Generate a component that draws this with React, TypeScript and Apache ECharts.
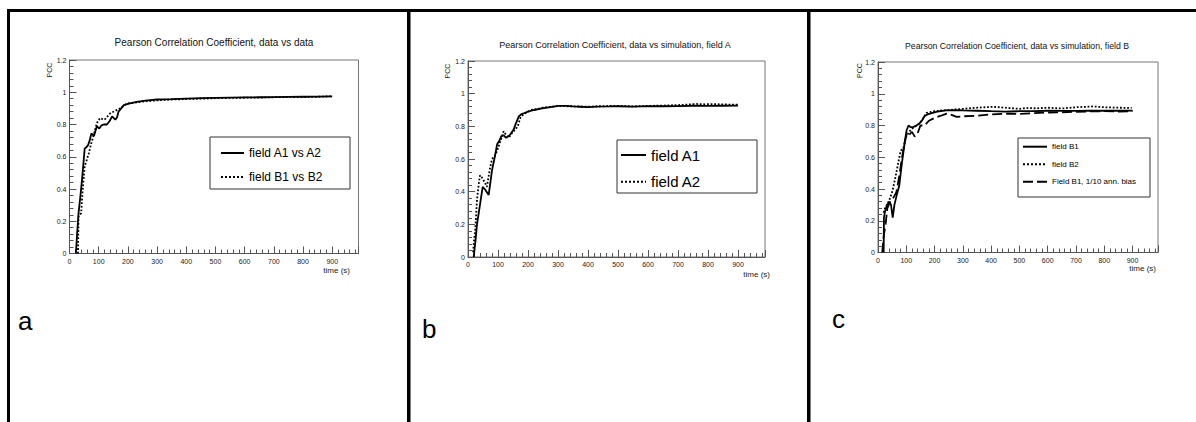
import React, { useEffect, useRef } from "react";
import * as echarts from "echarts";

const FONT = "'Liberation Sans', Arial, Helvetica, sans-serif";

// ---------- data: panel a (data vs data) ----------
const timeA1vsA2 = [22, 26, 31, 37, 43, 52, 58, 63, 69, 75, 84, 94, 102, 110, 117, 128, 137, 146, 157, 163, 168, 177, 186, 203, 230, 260, 300, 350, 400, 450, 500, 550, 600, 650, 700, 750, 800, 850, 900];
const pccA1vsA2 = [0, 0.12, 0.25, 0.35, 0.46, 0.65, 0.66, 0.67, 0.7, 0.745, 0.73, 0.79, 0.775, 0.795, 0.8, 0.8, 0.82, 0.85, 0.83, 0.845, 0.88, 0.9, 0.92, 0.93, 0.94, 0.948, 0.955, 0.957, 0.96, 0.963, 0.965, 0.967, 0.968, 0.969, 0.97, 0.971, 0.972, 0.973, 0.975];
const timeB1vsB2 = [29, 30, 31, 35, 40, 45, 52, 59, 66, 74, 83, 94, 105, 112, 120, 130, 140, 157, 174, 185, 197, 220, 250, 300, 350, 400, 450, 500, 550, 600, 650, 700, 750, 800, 850, 900];
const pccB1vsB2 = [0, 0.12, 0.23, 0.24, 0.25, 0.39, 0.54, 0.58, 0.62, 0.68, 0.735, 0.81, 0.84, 0.835, 0.83, 0.85, 0.87, 0.885, 0.9, 0.915, 0.93, 0.935, 0.942, 0.95, 0.955, 0.958, 0.96, 0.963, 0.965, 0.966, 0.967, 0.969, 0.971, 0.97, 0.972, 0.975];

// ---------- data: panel b (data vs simulation, field A) ----------
const timeFieldA1 = [19, 25, 30, 40, 49, 58, 69, 80, 90, 97, 104, 111, 119, 127, 135, 141, 152, 160, 169, 178, 186, 200, 220, 247, 275, 302, 330, 350, 375, 400, 430, 470, 500, 550, 600, 650, 700, 750, 800, 850, 900];
const pccFieldA1 = [0, 0.1, 0.2, 0.32, 0.43, 0.41, 0.38, 0.53, 0.62, 0.69, 0.71, 0.74, 0.745, 0.73, 0.74, 0.75, 0.78, 0.82, 0.86, 0.875, 0.88, 0.89, 0.9, 0.91, 0.918, 0.925, 0.925, 0.922, 0.92, 0.918, 0.921, 0.922, 0.923, 0.921, 0.924, 0.923, 0.924, 0.926, 0.925, 0.926, 0.927];
const timeFieldA2 = [17, 20, 24, 30, 36, 40, 45, 52, 63, 72, 80, 90, 97, 108, 119, 128, 136, 147, 157, 166, 174, 183, 191, 210, 230, 250, 280, 300, 330, 360, 400, 450, 500, 550, 600, 650, 700, 730, 760, 790, 820, 850, 880, 900];
const pccFieldA2 = [0.03, 0.1, 0.16, 0.35, 0.45, 0.5, 0.49, 0.47, 0.43, 0.53, 0.6, 0.62, 0.65, 0.71, 0.77, 0.745, 0.73, 0.76, 0.78, 0.8, 0.85, 0.87, 0.88, 0.9, 0.905, 0.915, 0.92, 0.925, 0.923, 0.922, 0.92, 0.924, 0.925, 0.922, 0.925, 0.927, 0.93, 0.933, 0.937, 0.935, 0.936, 0.934, 0.933, 0.932];

// ---------- data: panel c (data vs simulation, field B) ----------
const timeFieldB1 = [20, 21, 25, 32, 40, 46, 52, 58, 66, 75, 85, 95, 101, 108, 115, 125, 135, 145, 155, 165, 175, 190, 210, 240, 270, 300, 350, 400, 450, 500, 550, 600, 650, 700, 750, 800, 850, 900];
const pccFieldB1 = [0, 0.22, 0.26, 0.3, 0.32, 0.3, 0.22, 0.3, 0.36, 0.42, 0.57, 0.7, 0.77, 0.8, 0.79, 0.79, 0.8, 0.81, 0.83, 0.86, 0.87, 0.878, 0.888, 0.895, 0.897, 0.895, 0.893, 0.89, 0.888, 0.89, 0.891, 0.893, 0.892, 0.892, 0.893, 0.894, 0.893, 0.894];
const timeFieldB2 = [20, 25, 32, 40, 50, 60, 70, 80, 90, 100, 110, 120, 130, 150, 172, 200, 230, 266, 300, 350, 408, 450, 500, 526, 560, 600, 650, 700, 761, 800, 850, 897];
const pccFieldB2 = [0.25, 0.28, 0.3, 0.33, 0.38, 0.46, 0.55, 0.64, 0.66, 0.73, 0.76, 0.78, 0.79, 0.82, 0.88, 0.89, 0.895, 0.9, 0.905, 0.912, 0.918, 0.912, 0.905, 0.91, 0.908, 0.912, 0.907, 0.915, 0.92, 0.915, 0.912, 0.911];
const timeFieldB1Bias = [15, 20, 27, 33, 40, 48, 56, 65, 75, 85, 95, 102, 110, 120, 130, 140, 150, 165, 180, 200, 220, 243, 258, 278, 300, 350, 400, 467, 500, 550, 600, 643, 700, 750, 800, 850, 900];
const pccFieldB1Bias = [0, 0.1, 0.18, 0.28, 0.31, 0.33, 0.35, 0.38, 0.48, 0.6, 0.7, 0.75, 0.74, 0.76, 0.73, 0.75, 0.8, 0.8, 0.83, 0.848, 0.86, 0.875, 0.868, 0.854, 0.858, 0.862, 0.87, 0.875, 0.873, 0.878, 0.882, 0.883, 0.886, 0.889, 0.89, 0.888, 0.89];

// ---------- texts ----------
const panelTitles = [
  "Pearson Correlation Coefficient, data vs data",
  "Pearson Correlation Coefficient, data vs simulation, field A",
  "Pearson Correlation Coefficient, data vs simulation, field B",
];
const panelLetters = ["a", "b", "c"];
const xAxisTitle = "time (s)";
const yAxisTitle = "PCC";

const zip = (t: number[], v: number[]) => t.map((x, i) => [x, v[i]]);

// layout of the three panels (pixels)
const panels = [
  { left: 69.5, top: 60, width: 289, height: 193.5, titleX: 214, titleY: 37.5, titleSize: 10,
    pccX: 49, pccY: 70, timeX: 350, timeY: 270,
    legend: { box: [210, 137, 140, 52], left: 220, top: 147, iw: 23, ih: 12, gap: 12, fs: 12 },
    letter: [18, 321] },
  { left: 468, top: 61, width: 297, height: 196, titleX: 615, titleY: 40, titleSize: 9,
    pccX: 447, pccY: 71, timeX: 770, timeY: 274,
    legend: { box: [617, 140, 140, 53], left: 620, top: 147.5, iw: 25, ih: 15, gap: 11.7, fs: 15 },
    letter: [422, 329] },
  { left: 878, top: 62, width: 280, height: 190.5, titleX: 1017, titleY: 41, titleSize: 8.7,
    pccX: 859, pccY: 70.5, timeX: 1156, timeY: 268,
    legend: { box: [1018, 138, 132, 59], left: 1022, top: 142.7, iw: 24, ih: 8, gap: 9.5, fs: 8 },
    letter: [832, 319] },
];

const seriesDefs = [
  { name: "field A1 vs A2", panel: 0, t: timeA1vsA2, v: pccA1vsA2, type: "solid" },
  { name: "field B1 vs B2", panel: 0, t: timeB1vsB2, v: pccB1vsB2, type: "dotted" },
  { name: "field A1", panel: 1, t: timeFieldA1, v: pccFieldA1, type: "solid" },
  { name: "field A2", panel: 1, t: timeFieldA2, v: pccFieldA2, type: "dotted" },
  { name: "field B1", panel: 2, t: timeFieldB1, v: pccFieldB1, type: "solid" },
  { name: "field B2", panel: 2, t: timeFieldB2, v: pccFieldB2, type: "dotted" },
  { name: "Field B1, 1/10 ann. bias", panel: 2, t: timeFieldB1Bias, v: pccFieldB1Bias, type: [10, 4] },
];

export default function App() {
  const ref = useRef<HTMLDivElement>(null);
  useEffect(() => {
    if (!ref.current) return;
    const chart = echarts.init(ref.current, null, { renderer: "svg" });
    const axisColor = "#555";
    const option: any = {
      animation: false,
      backgroundColor: "#fff",
      title: panels.map((p, i) => ({
        text: panelTitles[i],
        left: p.titleX,
        top: p.titleY,
        padding: 0,
        textAlign: "center",
        textVerticalAlign: "top",
        textStyle: { fontFamily: FONT, fontSize: p.titleSize, fontWeight: "normal", color: "#111" },
      })),
      grid: panels.map((p) => ({
        left: p.left, top: p.top, width: p.width, height: p.height,
        show: true, borderColor: "#777", borderWidth: 1, backgroundColor: "transparent",
      })),
      xAxis: panels.map((p, i) => ({
        gridIndex: i, type: "value", min: 0, max: 990, interval: 100,
        axisLine: { show: true, onZero: false, lineStyle: { color: axisColor, width: 1 } },
        axisTick: { show: true, inside: true, length: 7, lineStyle: { color: axisColor } },
        minorTick: { show: true, splitNumber: 5, length: 4, lineStyle: { color: axisColor } },
        splitLine: { show: false },
        axisLabel: { showMaxLabel: false, fontSize: 7, color: "#222", margin: 4, fontFamily: FONT },
      })),
      yAxis: panels.map((p, i) => ({
        gridIndex: i, type: "value", min: 0, max: 1.2, interval: 0.2,
        axisLine: { show: true, lineStyle: { color: axisColor, width: 1 } },
        axisTick: { show: true, inside: true, length: 7, lineStyle: { color: axisColor } },
        minorTick: { show: true, splitNumber: 5, length: 4, lineStyle: { color: axisColor } },
        splitLine: { show: false },
        axisLabel: { fontSize: 7, color: "#222", margin: 3, fontFamily: FONT },
      })),
      legend: panels.map((p, i) => ({
        orient: "vertical",
        left: p.legend.left,
        top: p.legend.top,
        padding: 0,
        itemWidth: p.legend.iw,
        itemHeight: p.legend.ih,
        itemGap: p.legend.gap,
        selectedMode: false,
        data: seriesDefs.filter((s) => s.panel === i).map((s) => s.name),
        itemStyle: { opacity: 0 },
        lineStyle: { width: 2 },
        textStyle: { fontFamily: FONT, fontSize: p.legend.fs, color: "#000" },
      })),
      series: seriesDefs.map((s) => ({
        name: s.name,
        type: "line",
        xAxisIndex: s.panel,
        yAxisIndex: s.panel,
        data: zip(s.t, s.v),
        symbol: "none",
        showSymbol: false,
        lineStyle: { color: "#000", width: 1.8, type: s.type },
        itemStyle: { color: "#000" },
      })),
      graphic: [
        // page borders
        { type: "rect", shape: { x: 7, y: 9, width: 1189, height: 3 }, style: { fill: "#000" } },
        { type: "rect", shape: { x: 7, y: 9, width: 3, height: 413 }, style: { fill: "#000" } },
        { type: "rect", shape: { x: 407, y: 9, width: 3.5, height: 413 }, style: { fill: "#000" } },
        { type: "rect", shape: { x: 807, y: 9, width: 3.5, height: 413 }, style: { fill: "#000" } },
        ...panels.flatMap((p, i) => [
          {
            type: "rect",
            shape: { x: p.legend.box[0], y: p.legend.box[1], width: p.legend.box[2], height: p.legend.box[3] },
            style: { fill: "none", stroke: "#333", lineWidth: 1 },
            z: 0,
          },
          {
            type: "text", x: p.timeX, y: p.timeY,
            style: { text: xAxisTitle, fontFamily: FONT, fontSize: 8, fill: "#222", align: "right", verticalAlign: "middle" },
          },
          {
            type: "text", x: p.pccX, y: p.pccY, rotation: Math.PI / 2,
            style: { text: yAxisTitle, fontFamily: FONT, fontSize: 7, fill: "#222", align: "center", verticalAlign: "middle" },
          },
          {
            type: "text", x: p.letter[0], y: p.letter[1],
            style: { text: panelLetters[i], fontFamily: FONT, fontSize: 26, fill: "#000", align: "left", verticalAlign: "middle" },
          },
        ]),
      ],
    };
    chart.setOption(option);
    return () => chart.dispose();
  }, []);
  return <div ref={ref} style={{ position: "absolute", left: 0, top: 0, width: 1196, height: 422 }} />;
}
